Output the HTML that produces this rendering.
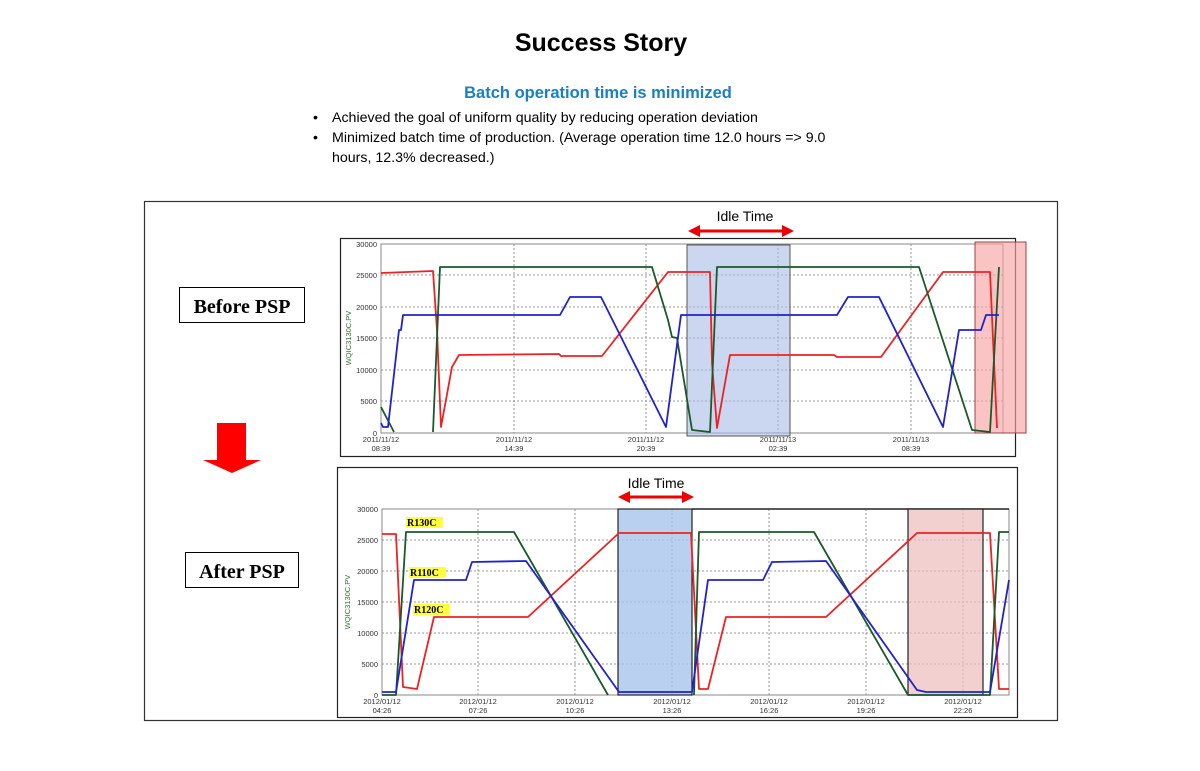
<!DOCTYPE html>
<html><head><meta charset="utf-8"><style>
body{margin:0;background:#fff;width:1200px;height:766px;overflow:hidden;font-family:"Liberation Sans",sans-serif}
</style></head><body>
<svg width="1200" height="766" viewBox="0 0 1200 766" xmlns="http://www.w3.org/2000/svg" font-family="Liberation Sans, sans-serif">
<text x="601" y="51" text-anchor="middle" font-size="25" font-weight="bold">Success Story</text>
<text x="598" y="98" text-anchor="middle" font-size="16.5" font-weight="bold" fill="#1a80c0">Batch operation time is minimized</text>
<g font-size="14.2" fill="#000">
<text x="313" y="122">•</text><text x="332" y="122">Achieved the goal of uniform quality by reducing operation deviation</text>
<text x="313" y="142">•</text><text x="332" y="142">Minimized batch time of production. (Average operation time 12.0 hours =&gt; 9.0</text>
<text x="332" y="162">hours, 12.3% decreased.)</text>
</g>
<rect x="144.5" y="201.5" width="913" height="519" fill="none" stroke="#333" stroke-width="1.2"/>
<rect x="179.5" y="287.5" width="125" height="35" fill="#fff" stroke="#000"/>
<text x="242" y="313" text-anchor="middle" font-family="Liberation Serif, serif" font-weight="bold" font-size="20">Before PSP</text>
<rect x="185.5" y="552.5" width="113" height="35" fill="#fff" stroke="#000"/>
<text x="242" y="578" text-anchor="middle" font-family="Liberation Serif, serif" font-weight="bold" font-size="20">After PSP</text>
<polygon points="217,423 246,423 246,460 261,460 232,473 203,460 217,460" fill="#f00"/>

<!-- TOP CHART -->
<rect x="340.5" y="238.5" width="675" height="218" fill="#fff" stroke="#222" stroke-width="1.2"/>
<text x="745" y="221" text-anchor="middle" font-size="14">Idle Time</text>
<line x1="696" y1="231" x2="786" y2="231" stroke="#e00" stroke-width="3"/>
<polygon points="688,231 700,225 700,237" fill="#e00"/><polygon points="794,231 782,225 782,237" fill="#e00"/>
<g stroke="#999" stroke-dasharray="2,2" stroke-width="1">
<line x1="381" y1="275" x2="1003" y2="275"/><line x1="381" y1="307" x2="1003" y2="307"/><line x1="381" y1="338" x2="1003" y2="338"/><line x1="381" y1="370" x2="1003" y2="370"/><line x1="381" y1="401" x2="1003" y2="401"/>
<line x1="514" y1="244" x2="514" y2="433"/><line x1="646" y1="244" x2="646" y2="433"/><line x1="778" y1="244" x2="778" y2="433"/><line x1="911" y1="244" x2="911" y2="433"/>
</g>
<rect x="381" y="244" width="622" height="189" fill="none" stroke="#888"/>
<g font-size="7.5" fill="#333" text-anchor="end">
<text x="377" y="247">30000</text><text x="377" y="278">25000</text><text x="377" y="310">20000</text><text x="377" y="341">15000</text><text x="377" y="373">10000</text><text x="377" y="404">5000</text><text x="377" y="436">0</text>
</g>
<text transform="translate(351,338) rotate(-90)" text-anchor="middle" font-size="7.5" fill="#2a7a2a">WQIC3130C.PV</text>
<g font-size="7.5" fill="#333" text-anchor="middle">
<text x="381" y="442">2011/11/12</text><text x="381" y="451">08:39</text>
<text x="514" y="442">2011/11/12</text><text x="514" y="451">14:39</text>
<text x="646" y="442">2011/11/12</text><text x="646" y="451">20:39</text>
<text x="778" y="442">2011/11/13</text><text x="778" y="451">02:39</text>
<text x="911" y="442">2011/11/13</text><text x="911" y="451">08:39</text>
</g>
<rect x="687" y="245" width="103" height="191" fill="#a9bde8" fill-opacity="0.6" stroke="#555"/>
<rect x="975" y="242" width="51" height="191" fill="#f7a5a5" fill-opacity="0.65" stroke="#944"/>
<g fill="none" stroke-width="1.8" stroke-linejoin="round">
<polyline stroke="#e22" points="381,273 433,271 437,330 441,427 452,367 459,355 559,354 561,356 602,356 668,272 710,272 712,363 717,428 730,355 834,355 837,357 881,357 943,272 990,272 997,428"/>
<polyline stroke="#1a5a2a" points="381,407 394,432"/>
<polyline stroke="#1a5a2a" points="433,432 440,267 652,267 668,320 672,337 677,338 692,430 710,432 717,267 919,267 972,430 990,432 999,267"/>
<polyline stroke="#22c" points="381,423 383,427 388,427 399,330 401,330 403,315 560,315 570,297 601,297 666,427 681,315 837,315 848,297 879,297 943,427 959,330 981,330 986,315 999,315"/>
</g>

<!-- BOTTOM CHART -->
<rect x="337.5" y="467.5" width="680" height="250" fill="#fff" stroke="#222" stroke-width="1.2"/>
<text x="656" y="488" text-anchor="middle" font-size="14">Idle Time</text>
<line x1="626" y1="497" x2="686" y2="497" stroke="#e00" stroke-width="3"/>
<polygon points="618,497 630,491 630,503" fill="#e00"/><polygon points="694,497 682,491 682,503" fill="#e00"/>
<g stroke="#999" stroke-dasharray="2,2" stroke-width="1">
<line x1="382" y1="540" x2="1009" y2="540"/><line x1="382" y1="571" x2="1009" y2="571"/><line x1="382" y1="602" x2="1009" y2="602"/><line x1="382" y1="633" x2="1009" y2="633"/><line x1="382" y1="664" x2="1009" y2="664"/>
<line x1="478" y1="509" x2="478" y2="695"/><line x1="575" y1="509" x2="575" y2="695"/><line x1="672" y1="509" x2="672" y2="695"/><line x1="769" y1="509" x2="769" y2="695"/><line x1="866" y1="509" x2="866" y2="695"/><line x1="963" y1="509" x2="963" y2="695"/>
</g>
<rect x="382" y="509" width="627" height="186" fill="none" stroke="#888"/>
<line x1="692" y1="509" x2="1009" y2="509" stroke="#222" stroke-width="1.5"/>
<g font-size="7.5" fill="#333" text-anchor="end">
<text x="378" y="512">30000</text><text x="378" y="543">25000</text><text x="378" y="574">20000</text><text x="378" y="605">15000</text><text x="378" y="636">10000</text><text x="378" y="667">5000</text><text x="378" y="698">0</text>
</g>
<text transform="translate(350,602) rotate(-90)" text-anchor="middle" font-size="7.5" fill="#2a7a2a">WQIC3130C.PV</text>
<g font-size="7.5" fill="#333" text-anchor="middle">
<text x="382" y="704">2012/01/12</text><text x="382" y="713">04:26</text>
<text x="478" y="704">2012/01/12</text><text x="478" y="713">07:26</text>
<text x="575" y="704">2012/01/12</text><text x="575" y="713">10:26</text>
<text x="672" y="704">2012/01/12</text><text x="672" y="713">13:26</text>
<text x="769" y="704">2012/01/12</text><text x="769" y="713">16:26</text>
<text x="866" y="704">2012/01/12</text><text x="866" y="713">19:26</text>
<text x="963" y="704">2012/01/12</text><text x="963" y="713">22:26</text>
</g>
<rect x="618" y="509" width="74" height="186" fill="#a9c4ec" fill-opacity="0.8" stroke="#222" stroke-width="1.2"/>
<rect x="908" y="509" width="75" height="186" fill="#ecbcbc" fill-opacity="0.7" stroke="#222" stroke-width="1.2"/>
<g fill="none" stroke-width="1.8" stroke-linejoin="round">
<polyline stroke="#e22" points="382,534 396,534 403,687 417,689 434,617 463,617 528,617 619,533 691,533 699,689 708,689 726,617 826,617 917,533 990,533 999,689 1009,689"/>
<polyline stroke="#1a5a2a" points="382,695 396,695 406,532 514,532 608,695"/>
<polyline stroke="#1a5a2a" points="694,695 699,532 814,532 908,695 990,695 999,532 1009,532"/>
<polyline stroke="#22c" points="382,692 396,692 414,580 466,580 472,562 526,561 619,692 692,692 708,580 763,580 772,562 826,561 917,690 926,692 990,692 1009,580"/>
</g>
<g font-family="Liberation Serif, serif" font-weight="bold" font-size="10">
<rect x="406" y="517" width="37" height="11" fill="#ffff40"/><text x="407" y="526">R130C</text>
<rect x="409" y="567" width="37" height="11" fill="#ffff40"/><text x="410" y="576">R110C</text>
<rect x="413" y="604" width="37" height="11" fill="#ffff40"/><text x="414" y="613">R120C</text>
</g>
</svg>
</body></html>
